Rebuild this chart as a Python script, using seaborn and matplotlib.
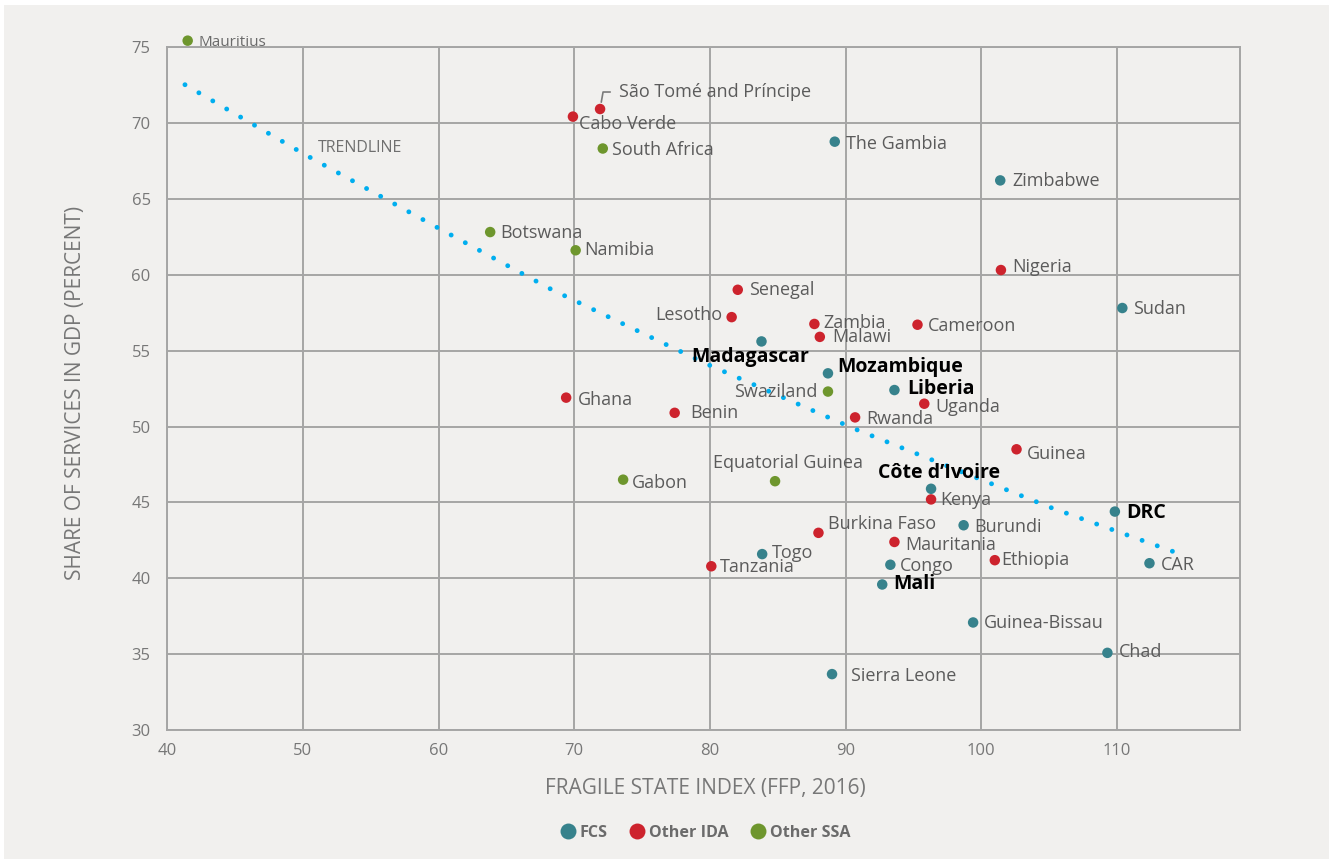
import pandas as pd
import seaborn as sns
import matplotlib.pyplot as plt
from matplotlib.patches import Rectangle

# data: fragile state index vs services share of GDP
countries = ["Mauritius", "São Tomé and Príncipe", "Cabo Verde", "South Africa", "The Gambia",
             "Zimbabwe", "Botswana", "Namibia", "Nigeria", "Senegal", "Sudan", "Lesotho",
             "Zambia", "Cameroon", "Malawi", "Madagascar", "Mozambique", "Liberia", "Swaziland",
             "Ghana", "Uganda", "Benin", "Rwanda", "Guinea", "Gabon", "Equatorial Guinea",
             "Côte d’Ivoire", "Kenya", "DRC", "Burundi", "Burkina Faso", "Mauritania", "Togo",
             "Ethiopia", "CAR", "Congo", "Tanzania", "Mali", "Guinea-Bissau", "Chad", "Sierra Leone"]
fsi = [41.5, 71.9, 69.9, 72.1, 89.2,
       101.4, 63.8, 70.1, 101.45, 82.05, 110.4, 81.6,
       87.7, 95.3, 88.1, 83.8, 88.7, 93.6, 88.7,
       69.4, 95.8, 77.4, 90.7, 102.6, 73.6, 84.8,
       96.3, 96.3, 109.85, 98.7, 88.0, 93.6, 83.85,
       101.0, 112.4, 93.3, 80.1, 92.7, 99.4, 109.3, 89.0]
services = [75.4, 70.9, 70.4, 68.3, 68.75,
            66.2, 62.8, 61.6, 60.3, 59.0, 57.8, 57.2,
            56.75, 56.7, 55.9, 55.6, 53.5, 52.4, 52.3,
            51.9, 51.5, 50.9, 50.6, 48.5, 46.5, 46.4,
            45.9, 45.2, 44.4, 43.5, 43.0, 42.4, 41.6,
            41.2, 41.0, 40.9, 40.8, 39.6, 37.1, 35.1, 33.7]
groups = ["Other SSA", "Other IDA", "Other IDA", "Other SSA", "FCS",
          "FCS", "Other SSA", "Other SSA", "Other IDA", "Other IDA", "FCS", "Other IDA",
          "Other IDA", "Other IDA", "Other IDA", "FCS", "FCS", "FCS", "Other SSA",
          "Other IDA", "Other IDA", "Other IDA", "Other IDA", "Other IDA", "Other SSA", "Other SSA",
          "FCS", "Other IDA", "FCS", "FCS", "Other IDA", "Other IDA", "FCS",
          "Other IDA", "FCS", "FCS", "Other IDA", "FCS", "FCS", "FCS", "FCS"]
bold_labels = ["Madagascar", "Mozambique", "Liberia", "Côte d’Ivoire", "DRC", "Mali"]

# trendline (slightly curved in the original), points read along it
trend_x = [41.3, 50.15, 59.9, 68.3, 79.65, 90.65, 105.2, 114.3]
trend_y = [72.5, 67.9, 63.1, 59.03, 54.16, 49.85, 44.64, 41.72]

group_order = ["FCS", "Other IDA", "Other SSA"]
palette = {"FCS": "#37828C", "Other IDA": "#CD232D", "Other SSA": "#6E962D"}

# label offsets in pixels (dx, dy, ha)
label_pos = {
    "Mauritius": (11, -2, "left"), "São Tomé and Príncipe": (19, 17, "left"),
    "Cabo Verde": (6, -7, "left"), "South Africa": (9, -1, "left"),
    "The Gambia": (11, -2, "left"), "Zimbabwe": (12, -1, "left"),
    "Botswana": (10, -1, "left"), "Namibia": (9, 0, "left"),
    "Nigeria": (11, 3, "left"), "Senegal": (11, 0, "left"),
    "Sudan": (11, -1, "left"), "Lesotho": (-9, 2, "right"),
    "Zambia": (9, 1, "left"), "Cameroon": (10, -1, "left"),
    "Malawi": (12, 0, "left"), "Madagascar": (-11, -16, "center"),
    "Mozambique": (9, 6, "left"), "Liberia": (13, 1, "left"),
    "Swaziland": (-11, 0, "right"), "Ghana": (12, -2, "left"),
    "Uganda": (11, -3, "left"), "Benin": (16, 0, "left"),
    "Rwanda": (11, -2, "left"), "Guinea": (10, -5, "left"),
    "Gabon": (9, -3, "left"), "Equatorial Guinea": (13, 18, "center"),
    "Côte d’Ivoire": (8, 16, "center"), "Kenya": (9, -1, "left"),
    "DRC": (11, -1, "left"), "Burundi": (11, -2, "left"),
    "Burkina Faso": (10, 9, "left"), "Mauritania": (11, -3, "left"),
    "Togo": (10, 1, "left"), "Ethiopia": (6, 0, "left"),
    "CAR": (11, -2, "left"), "Congo": (10, -1, "left"),
    "Tanzania": (9, -1, "left"), "Mali": (11, 0, "left"),
    "Guinea-Bissau": (11, -1, "left"), "Chad": (11, 1, "left"),
    "Sierra Leone": (19, -2, "left"),
}

df = pd.DataFrame({"country": countries, "fsi": fsi, "services": services, "group": groups})

bg = "#F1F0EE"
grid_col = "#A5A5A5"

sns.set_theme(style="white")
plt.rcParams["font.family"] = ["Open Sans", "DejaVu Sans"]

fig = plt.figure(figsize=(13.29, 8.59), dpi=100)
fig.patch.set_facecolor("white")
fig.add_artist(Rectangle((4 / 1329, 0), 1, 1 - 5 / 859, transform=fig.transFigure,
                         facecolor=bg, edgecolor="none", zorder=-10))
ax = fig.add_axes([0.1259, 0.1498, 0.8074, 0.7958])
ax.set_facecolor(bg)

# dotted trendline
sns.lineplot(x=trend_x, y=trend_y, ax=ax, color="#00AEEF", linewidth=3.5,
             linestyle=(0, (0.01, 3.3)), dash_capstyle="round", zorder=2)

sns.scatterplot(data=df, x="fsi", y="services", hue="group", hue_order=group_order,
                palette=palette, s=57, edgecolor="none", linewidth=0, ax=ax,
                clip_on=False, zorder=3)

for name, x, y in zip(countries, fsi, services):
    dx, dy, ha = label_pos[name]
    kw = dict(fontsize=13, color="#5B5B5B")
    if name in bold_labels:
        kw = dict(fontsize=14, color="black", fontweight="bold")
    if name == "Mauritius":
        kw = dict(fontsize=11, color="#6A6A6A")
    arrow = None
    if name == "São Tomé and Príncipe":
        arrow = dict(arrowstyle="-", color="#7A7A7A", lw=1.2, relpos=(0, 0.5),
                     connectionstyle="angle,angleA=0,angleB=80,rad=0", shrinkA=4, shrinkB=5)
    ax.annotate(name, (x, y), xytext=(dx, dy), textcoords="offset pixels", ha=ha,
                va="center", annotation_clip=False, zorder=4, arrowprops=arrow, **kw)

ax.text(51.1, 68.35, "TRENDLINE", fontsize=11.5, color="#6F6F6F", va="center", ha="left")

ax.set_xlim(40, 119.1)
ax.set_ylim(30, 75)
ax.set_xticks(range(40, 111, 10))
ax.set_yticks(range(30, 76, 5))
ax.grid(True, color=grid_col, linewidth=1.4)
ax.set_axisbelow(True)
for s in ax.spines.values():
    s.set_visible(True)
    s.set_color(grid_col)
    s.set_linewidth(1.4)
ax.tick_params(length=0, labelsize=12, colors="#777777")
ax.tick_params(axis="x", pad=9)
ax.tick_params(axis="y", pad=12)

ax.set_xlabel("FRAGILE STATE INDEX (FFP, 2016)", fontsize=15, color="#777777", va="center")
ax.xaxis.set_label_coords(0.501, -0.0844)
ax.set_ylabel("SHARE OF SERVICES IN GDP (PERCENT)", fontsize=15, color="#777777", va="center")
ax.yaxis.set_label_coords(-0.086, 0.4934)

sns.move_legend(ax, "center", bbox_to_anchor=(0.501, -0.150), ncol=3, frameon=False,
                title=None, handletextpad=0.25, columnspacing=1.3, markerscale=1.52,
                fontsize=11.6, handlelength=1.0)
for t in ax.get_legend().get_texts():
    t.set_color("#6B6B6B")
    t.set_fontweight("bold")

plt.savefig("out.png", dpi=100, facecolor=fig.get_facecolor())
plt.close()
